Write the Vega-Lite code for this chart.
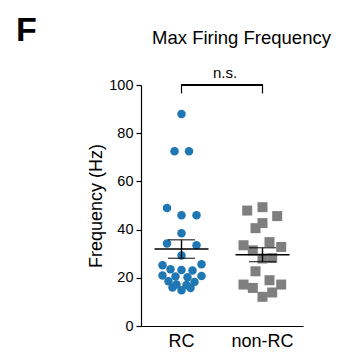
{
  "$schema": "https://vega.github.io/schema/vega-lite/v6.json",
  "width": 162,
  "height": 241,
  "autosize": {"type": "none"},
  "padding": {"left": 141, "top": 85, "right": 36, "bottom": 32},
  "background": "white",
  "config": {"view": {"stroke": null}, "font": "Liberation Sans"},
  "title": {"text": "F", "anchor": "start", "frame": "group", "dx": -125, "offset": -47, "fontSize": 34, "fontWeight": "bold", "baseline": "alphabetic", "color": "black"},
  "data": {"values": [
    {"group": "RC", "hz": 88, "jitter": 0},
    {"group": "RC", "hz": 72.5, "jitter": -7},
    {"group": "RC", "hz": 72.5, "jitter": 7.5},
    {"group": "RC", "hz": 49, "jitter": -14.5},
    {"group": "RC", "hz": 46, "jitter": 0},
    {"group": "RC", "hz": 46, "jitter": 15},
    {"group": "RC", "hz": 38.5, "jitter": 0},
    {"group": "RC", "hz": 34.2, "jitter": -14.5},
    {"group": "RC", "hz": 33.5, "jitter": 15},
    {"group": "RC", "hz": 29.3, "jitter": 0},
    {"group": "RC", "hz": 25.2, "jitter": -19},
    {"group": "RC", "hz": 25.6, "jitter": 20},
    {"group": "RC", "hz": 23.5, "jitter": -11},
    {"group": "RC", "hz": 23.2, "jitter": 0},
    {"group": "RC", "hz": 23.0, "jitter": 11},
    {"group": "RC", "hz": 21.0, "jitter": -19},
    {"group": "RC", "hz": 20.7, "jitter": 20},
    {"group": "RC", "hz": 20.5, "jitter": -6},
    {"group": "RC", "hz": 20.2, "jitter": 6},
    {"group": "RC", "hz": 18.6, "jitter": -13},
    {"group": "RC", "hz": 18.3, "jitter": 13},
    {"group": "RC", "hz": 17.2, "jitter": -5},
    {"group": "RC", "hz": 17.0, "jitter": 5},
    {"group": "RC", "hz": 16.0, "jitter": -9},
    {"group": "RC", "hz": 15.8, "jitter": 9},
    {"group": "RC", "hz": 14.8, "jitter": 0},
    {"group": "non-RC", "hz": 47.9, "jitter": -15.3},
    {"group": "non-RC", "hz": 49.3, "jitter": 0},
    {"group": "non-RC", "hz": 45.6, "jitter": 14.7},
    {"group": "non-RC", "hz": 42.7, "jitter": 0},
    {"group": "non-RC", "hz": 40.6, "jitter": -7},
    {"group": "non-RC", "hz": 34.8, "jitter": 7},
    {"group": "non-RC", "hz": 33.5, "jitter": -19},
    {"group": "non-RC", "hz": 32.8, "jitter": 18.7},
    {"group": "non-RC", "hz": 31.4, "jitter": -9.7},
    {"group": "non-RC", "hz": 28.0, "jitter": 0},
    {"group": "non-RC", "hz": 28.2, "jitter": 9.7},
    {"group": "non-RC", "hz": 22.7, "jitter": -7},
    {"group": "non-RC", "hz": 19.0, "jitter": 7},
    {"group": "non-RC", "hz": 17.2, "jitter": -19},
    {"group": "non-RC", "hz": 15.8, "jitter": -9.7},
    {"group": "non-RC", "hz": 17.2, "jitter": 18.7},
    {"group": "non-RC", "hz": 13.9, "jitter": 9.7},
    {"group": "non-RC", "hz": 12.1, "jitter": 0}
  ]},
  "resolve": {"axis": {"x": "independent"}},
  "layer": [
    {
      "mark": {"type": "point", "filled": true, "opacity": 1, "strokeWidth": 0},
      "encoding": {
        "x": {"field": "group", "type": "nominal", "sort": ["RC", "non-RC"],
              "scale": {"domain": ["RC", "non-RC"], "paddingInner": 0, "paddingOuter": 0},
              "axis": {"orient": "bottom", "title": null, "ticks": false, "labelAngle": 0, "labelFontSize": 18, "labelColor": "black", "labelPadding": 6, "domainColor": "black", "domainWidth": 1.2}},
        "xOffset": {"field": "jitter", "type": "quantitative", "scale": {"domain": [-40.5, 40.5]}},
        "y": {"field": "hz", "type": "quantitative", "title": "Frequency (Hz)",
              "scale": {"domain": [0, 100]},
              "axis": {"values": [0, 20, 40, 60, 80, 100], "grid": false, "tickSize": 5, "tickColor": "black", "tickWidth": 1.2, "domainColor": "black", "domainWidth": 1.2, "labelFontSize": 14.5, "labelColor": "black", "labelPadding": 3, "titleFontSize": 18, "titleFontWeight": "normal", "titleColor": "black", "titlePadding": 3}},
        "color": {"field": "group", "type": "nominal", "scale": {"domain": ["RC", "non-RC"], "range": ["#1f77b4", "#7f7f7f"]}, "legend": null},
        "shape": {"field": "group", "type": "nominal", "scale": {"domain": ["RC", "non-RC"], "range": ["circle", "square"]}, "legend": null},
        "size": {"field": "group", "type": "ordinal", "scale": {"domain": ["RC", "non-RC"], "range": [72, 100]}, "legend": null}
      }
    },
    {
      "mark": {"type": "tick", "size": 54, "thickness": 1.4, "color": "black"},
      "encoding": {
        "x": {"field": "group", "type": "nominal", "axis": null},
        "y": {"aggregate": "mean", "field": "hz", "type": "quantitative", "title": "Frequency (Hz)"}
      }
    },
    {
      "mark": {"type": "errorbar", "extent": "stderr", "color": "black", "ticks": {"size": 27, "thickness": 1.4}, "rule": {"strokeWidth": 1.4}},
      "encoding": {
        "x": {"field": "group", "type": "nominal", "axis": null},
        "y": {"field": "hz", "type": "quantitative", "title": "Frequency (Hz)"}
      }
    },
    {
      "transform": [{"aggregate": [{"op": "count", "as": "n"}], "groupby": ["group"]}],
      "mark": {"type": "rule", "color": "black", "strokeWidth": 1.2},
      "encoding": {
        "x": {"field": "group", "type": "nominal", "bandPosition": 0.5,
              "axis": {"orient": "top", "labels": false, "ticks": false, "domain": false, "title": "Max Firing Frequency", "titleFontSize": 18.5, "titleFontWeight": "normal", "titleColor": "black", "titleX": 100, "titleY": -42, "titleAlign": "center", "titleBaseline": "alphabetic"}},
        "y": {"datum": 96.5, "type": "quantitative"},
        "y2": {"datum": 100}
      }
    },
    {
      "mark": {"type": "rule", "color": "black", "strokeWidth": 1.2},
      "encoding": {
        "x": {"datum": "RC", "type": "nominal", "bandPosition": 0.5, "axis": null},
        "x2": {"datum": "non-RC", "bandPosition": 0.5},
        "y": {"datum": 100, "type": "quantitative"}
      }
    },
    {
      "data": {"values": [{"label": "n.s."}]},
      "mark": {"type": "text", "dy": -7, "dx": 3, "baseline": "alphabetic", "fontSize": 15, "color": "black"},
      "encoding": {
        "text": {"field": "label", "type": "nominal"},
        "y": {"datum": 100, "type": "quantitative"}
      }
    }
  ]
}
